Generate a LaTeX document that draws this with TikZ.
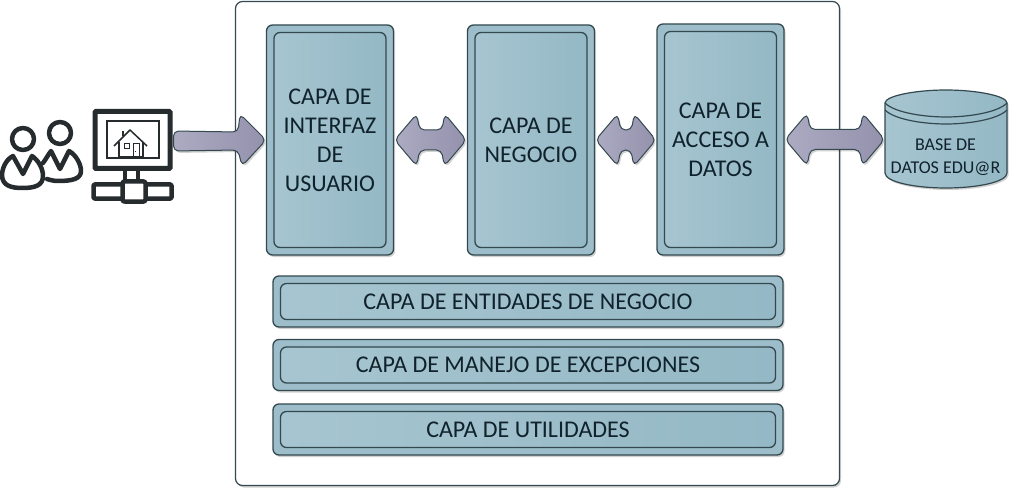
\documentclass[tikz,border=0pt]{standalone}
\usepackage{fontspec}
\setmainfont{Carlito}
\usetikzlibrary{calc,shadows}
\definecolor{edgec}{HTML}{33494F}
\definecolor{outerc}{HTML}{9CBDC9}
\definecolor{innerl}{HTML}{A6C5D0}
\definecolor{innerr}{HTML}{94B8C5}
\definecolor{arrowl}{HTML}{ADABC2}
\definecolor{arrowr}{HTML}{9391AC}
\definecolor{ink}{HTML}{262B2E}
\definecolor{txt}{HTML}{10222B}
\tikzset{
  softshadow/.style={drop shadow={shadow xshift=1.5pt,shadow yshift=-2pt,fill=black,opacity=.18}},
  layerbase/.style={draw=edgec,line width=1.3pt,rounded corners=6pt,fill=outerc,softshadow,inner sep=0pt},
  layerinner/.style={draw=edgec,line width=1.3pt,rounded corners=6pt,left color=innerl,right color=innerr,text=txt,align=center,font=\fontsize{24}{29}\selectfont,inner sep=0pt},
  blockarrow/.style={draw=edgec,line width=1pt,rounded corners=5pt,left color=arrowl,right color=arrowr,softshadow},
  iconline/.style={draw=ink,line width=4.5pt,line join=round},
}
% layer: name, centre x, centre y, width, height, text
\newcommand{\layerbox}[6]{%
  \node[layerbase,minimum width=#4pt,minimum height=#5pt] (#1o) at (#2,#3) {};
  \node[layerinner,minimum width=#4pt-15pt,minimum height=#5pt-15pt] (#1) at (#1o.center) {#6};
}
\newcommand{\dblarrow}[2]{%
  \path[blockarrow] let \p1=(#1), \p2=(#2) in
    (\x1+0.5pt,\y1) -- ++(22,-26) -- ++(3,16) -- (\x2-25pt,\y1+10pt) -- ++(3,-16) -- (\x2-0.5pt,\y1)
    -- ++(-22,26) -- ++(-3,-16) -- (\x1+25.5pt,\y1-10pt) -- ++(-3,16) -- cycle;
}
\begin{document}
\begin{tikzpicture}[x=1pt,y=-1pt]
\useasboundingbox (0,0) rectangle (1011,489);
\fill[white] (0,0) rectangle (1011,489);
\node[draw=edgec,line width=1.2pt,rounded corners=7pt,fill=white,minimum width=604pt,minimum height=484pt,inner sep=0pt,softshadow] (frame) at (537.5,243.5) {};

\layerbox{ui}{330}{140}{127}{230}{CAPA DE\\INTERFAZ\\DE\\USUARIO}
\layerbox{neg}{531}{140}{127}{230}{CAPA DE\\NEGOCIO}
\layerbox{acc}{720.5}{139.5}{127}{231}{CAPA DE\\ACCESO A\\DATOS}
\layerbox{ent}{528}{301.5}{510}{51}{CAPA DE ENTIDADES DE NEGOCIO}
\layerbox{exc}{528}{365}{510}{51}{CAPA DE MANEJO DE EXCEPCIONES}
\layerbox{uti}{528}{429.5}{510}{51}{CAPA DE UTILIDADES}

% database
\coordinate (dbw) at (885,140);
\draw[draw=edgec,line width=1.2pt,left color=innerl,right color=innerr,softshadow]
  (885,103) .. controls (885,96) and (915,90) .. (946,90) .. controls (977,90) and (1007,96) .. (1007,103)
  -- (1007,173) .. controls (1007,182) and (977,188) .. (946,188) .. controls (915,188) and (885,182) .. (885,173) -- cycle;
\draw[edgec,line width=1.2pt] (885,103) .. controls (895,113) and (925,117) .. (946,117) .. controls (967,117) and (997,113) .. (1007,103);
\draw[edgec,line width=1.2pt] (885,110) .. controls (895,120) and (925,124) .. (946,124) .. controls (967,124) and (997,120) .. (1007,110);
\node[text=txt,align=center,font=\fontsize{18}{23}\selectfont,inner sep=0pt] (dbt) at (945.5,157.5) {BASE DE\\DATOS EDU@R};

% monitor icon
\node[draw=ink,line width=5pt,rounded corners=1pt,minimum width=75pt,minimum height=57pt,inner sep=0pt,fill=white] (mon) at (132.5,140) {};
\node[draw=ink,line width=2pt,minimum width=52pt,minimum height=37pt,inner sep=0pt] (scr) at (132.5,140) {};
\draw[ink,line width=1.5pt,line join=round] (114,146) -- (130,130) -- (147,146);
\draw[ink,line width=1.5pt] (119,142) -- (119,157) -- (143,157) -- (143,142);
\draw[ink,line width=1.2pt] (123,131) -- (123,136);
\draw[ink,line width=1pt] (124,144) rectangle (129,149);
\draw[ink,line width=1pt] (133,144) rectangle (139,157);
\fill[ink] (134.5,151) rectangle (136,152.5);
\draw[iconline,line width=4pt] (125,170) -- (125,183) (138,170) -- (138,183);
\node[iconline,line width=4.5pt,rounded corners=1pt,minimum width=78pt,minimum height=14pt,inner sep=0pt] (bar) at (132.5,191.5) {};
\node[iconline,line width=4.5pt,rounded corners=2pt,fill=white,minimum width=23pt,minimum height=20pt,inner sep=0pt] (hub) at (134,191.5) {};

% users
\node[iconline,circle,line width=4.5pt,minimum size=22pt,inner sep=0pt] (u1) at (23,139) {};
\node[iconline,circle,line width=4.5pt,minimum size=22pt,inner sep=0pt] (u2) at (60,133) {};
\draw[iconline,line width=4.5pt,line cap=round,fill=white]
  (13,156) .. controls (5,160) and (2,170) .. (2,175) .. controls (2,186) and (12,188) .. (22,188)
  .. controls (34,188) and (43,186) .. (43,176) .. controls (43,168) and (38,160) .. (32,156)
  -- (23,174) -- cycle;
\draw[iconline,line width=4.5pt,line cap=round]
  (43,163) .. controls (46,159) and (48,155) .. (51,151) -- (60,169) -- (69,151)
  .. controls (76,155) and (81,164) .. (81,171) .. controls (81,179) and (72,181) .. (58,181) .. controls (54,181) and (50,180) .. (47,179);

% arrows
\path[blockarrow] let \p1=(mon.east), \p2=(ui.west) in
  (\x1+1pt,-131pt) -- (238,132) -- (240,114) -- (266,140) -- (242,166) -- (238,150) -- (\x1+1pt,-151pt) -- cycle;
\dblarrow{uio.east}{nego.west}
\dblarrow{nego.east}{acco.west}
\dblarrow{acco.east}{dbw}
\end{tikzpicture}
\end{document}
